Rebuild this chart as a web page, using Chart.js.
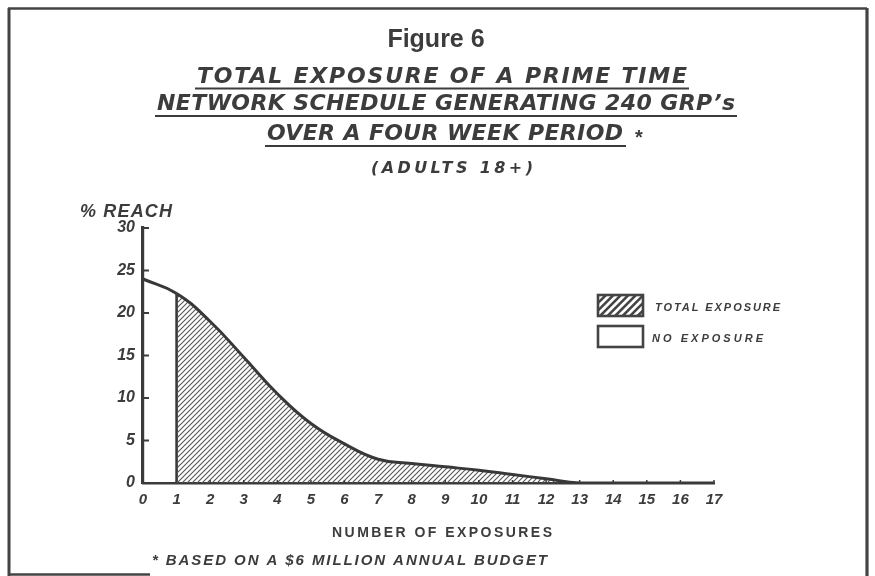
<!DOCTYPE html>
<html>
<head>
<meta charset="utf-8">
<script src="https://cdn.jsdelivr.net/npm/chart.js@4.4.0/dist/chart.umd.min.js"></script>
<style>
html,body{margin:0;padding:0;background:#fff;}
#wrap{width:875px;height:576px;position:relative;}
canvas{display:block;}
</style>
</head>
<body>
<div id="wrap"><canvas id="c" width="875" height="576"></canvas></div>
<script>
// ---- data ----
const exposures = [0,1,2,3,4,5,6,7,8,9,10,11,12,13,14,15,16,17];
const reach     = [24,22.3,19.0,14.8,10.5,7.0,4.6,2.8,2.3,1.9,1.5,1.0,0.5,0,0,0,0,0];
const yTickValues = [0,5,10,15,20,25,30];
const xTickLabels = exposures.map(String);
const totalFrom = 1;   // first exposure counted in "total exposure"
const totalTo = 13;
const figureLabel = 'Figure 6';
const titleLines = ['TOTAL EXPOSURE OF A PRIME TIME','NETWORK SCHEDULE GENERATING 240 GRP\u2019s','OVER A FOUR WEEK PERIOD'];
const subTitle = '(ADULTS 18+)';
const yAxisTitle = '% REACH';
const xAxisTitle = 'NUMBER OF EXPOSURES';
const footnote = '* BASED ON A $6 MILLION ANNUAL BUDGET';
const legendLabels = ['TOTAL EXPOSURE','NO EXPOSURE'];

// ---- styles ----
const INK = '#3c3c3c';
const HAND = "'Liberation Sans', Arial, sans-serif";
const HAND2 = "'DejaVu Sans', sans-serif";

function makeHatch(ctx){
  const S = 5;
  const pc = document.createElement('canvas');
  pc.width = S; pc.height = S;
  const p = pc.getContext('2d');
  p.strokeStyle = '#555';
  p.lineWidth = 1.1;
  p.beginPath();
  p.moveTo(-1,1); p.lineTo(1,-1);
  p.moveTo(0,S); p.lineTo(S,0);
  p.moveTo(S-1,S+1); p.lineTo(S+1,S-1);
  p.stroke();
  return ctx.createPattern(pc,'repeat');
}

function fitText(ctx, text, x, y, w, font){
  ctx.font = font;
  ctx.letterSpacing = '0px';
  const w0 = ctx.measureText(text).width;
  const n = [...text].length;
  const ls = n > 1 ? (w - w0)/(n-1) : 0;
  ctx.letterSpacing = ls + 'px';
  ctx.textAlign = 'left';
  ctx.textBaseline = 'alphabetic';
  ctx.fillText(text, x, y);
  ctx.letterSpacing = '0px';
}

function line(ctx,x1,y1,x2,y2,w){
  ctx.beginPath(); ctx.lineWidth = w; ctx.moveTo(x1,y1); ctx.lineTo(x2,y2); ctx.stroke();
}

const canvas = document.getElementById('c');
const cctx = canvas.getContext('2d');
const hatch = makeHatch(cctx);

const framePlugin = {
  id: 'frame',
  beforeDraw(chart){
    const ctx = chart.ctx;
    ctx.save();
    ctx.fillStyle = '#fff';
    ctx.fillRect(0,0,chart.width,chart.height);
    ctx.strokeStyle = '#444';
    line(ctx, 9, 8, 9, 576, 3);
    line(ctx, 8, 8.5, 867, 8.5, 2.5);
    line(ctx, 867, 8, 867, 576, 3.2);
    line(ctx, 8, 574.5, 150, 574.5, 2.5);
    ctx.restore();
  }
};

const textPlugin = {
  id: 'texts',
  afterDraw(chart){
    const ctx = chart.ctx;
    const xs = chart.scales.x, ys = chart.scales.y;
    ctx.save();
    ctx.fillStyle = INK;
    ctx.strokeStyle = INK;

    // inward ticks on y axis
    yTickValues.forEach(v => {
      if (v === 0) return;
      const py = ys.getPixelForValue(v);
      line(ctx, xs.left, py, xs.left + 6, py, 2);
    });
    // small upward ticks on x axis
    exposures.forEach(v => {
      if (v === 0) return;
      const px = xs.getPixelForValue(v);
      line(ctx, px, ys.bottom, px, ys.bottom - 3, 1.5);
    });

    // figure label
    ctx.font = "bold 25px 'Liberation Sans', Arial, sans-serif";
    ctx.textAlign = 'center';
    ctx.textBaseline = 'alphabetic';
    ctx.fillText(figureLabel, 436, 47);

    // title lines
    const tf = "oblique bold 22px " + HAND2;
    fitText(ctx, titleLines[0], 197, 83, 490, tf);
    line(ctx, 195, 88.5, 689, 88.5, 2);
    fitText(ctx, titleLines[1], 157, 110, 578, tf);
    line(ctx, 155, 116, 737, 116, 2);
    fitText(ctx, titleLines[2], 267, 140, 356, tf);
    line(ctx, 265, 146, 626, 146, 2);
    ctx.font = "bold 20px " + HAND;
    ctx.textAlign = 'left';
    ctx.fillText('*', 635, 144);

    fitText(ctx, subTitle, 371, 173, 162, "oblique bold 16px " + HAND2);

    // y axis title
    fitText(ctx, yAxisTitle, 80, 217, 92, "italic bold 18px " + HAND);

    // x axis title
    fitText(ctx, xAxisTitle, 332, 537, 220, "bold 14px " + HAND);

    // footnote
    fitText(ctx, footnote, 152, 565, 395, "italic bold 15px " + HAND);

    // legend
    const bx = 598, bw = 45, bh = 21;
    const b1y = 295, b2y = 326;
    ctx.save();
    ctx.beginPath(); ctx.rect(bx, b1y, bw, bh); ctx.clip();
    ctx.strokeStyle = '#444';
    for (let k = -30; k < bw + 30; k += 7.5){
      line(ctx, bx + k, b1y + bh + 2, bx + k + bh + 4, b1y - 2, 2.6);
    }
    ctx.restore();
    ctx.strokeStyle = '#444';
    ctx.lineWidth = 2.6;
    ctx.strokeRect(bx, b1y, bw, bh);
    ctx.strokeRect(bx, b2y, bw, bh);
    fitText(ctx, legendLabels[0], 655, 311, 125, "italic bold 11px " + HAND);
    fitText(ctx, legendLabels[1], 652, 342, 111, "italic bold 11px " + HAND);

    ctx.restore();
  }
};

const curveData = exposures.map((x,i) => ({x, y: reach[i]}));
const iFrom = exposures.indexOf(totalFrom);
const boundaryData = [{x: totalFrom, y: 0}, {x: totalFrom, y: reach[iFrom]}];

new Chart(cctx, {
  type: 'line',
  data: {
    datasets: [
      {
        label: 'Reach',
        data: curveData,
        borderColor: '#383838',
        borderWidth: 3,
        pointRadius: 0,
        tension: 0.45,
        fill: 'origin',
        backgroundColor: 'rgba(0,0,0,0)',
        segment: {
          backgroundColor: c => (c.p0.parsed.x >= totalFrom && c.p1.parsed.x <= totalTo) ? hatch : 'rgba(0,0,0,0)'
        }
      },
      {
        label: 'Boundary',
        data: boundaryData,
        borderColor: '#383838',
        borderWidth: 2.6,
        pointRadius: 0,
        fill: false,
        tension: 0
      }
    ]
  },
  options: {
    responsive: false,
    animation: false,
    devicePixelRatio: 1,
    layout: { padding: { left: 93, right: 161, top: 228, bottom: 63 } },
    plugins: { legend: { display: false }, tooltip: { enabled: false }, title: { display: false } },
    scales: {
      x: {
        type: 'linear',
        min: 0, max: 17,
        afterFit: s => { s.height = 30; },
        afterBuildTicks: s => { s.ticks = exposures.map(v => ({value: v})); },
        ticks: {
          callback: (v) => xTickLabels[exposures.indexOf(v)] ?? '',
          font: { family: HAND, size: 15, weight: 'bold', style: 'italic' },
          color: INK,
          padding: 8,
          maxRotation: 0,
          autoSkip: false
        },
        grid: { display: true, drawOnChartArea: false, drawTicks: false },
        border: { display: true, color: '#3a3a3a', width: 2.6 }
      },
      y: {
        type: 'linear',
        min: 0, max: 30,
        afterFit: s => { s.width = 50; },
        afterBuildTicks: s => { s.ticks = yTickValues.map(v => ({value: v})); },
        ticks: {
          font: { family: HAND, size: 16, weight: 'bold', style: 'italic' },
          color: INK,
          padding: 8
        },
        grid: { display: true, drawOnChartArea: false, drawTicks: false },
        border: { display: true, color: '#3a3a3a', width: 3.2 }
      }
    }
  },
  plugins: [framePlugin, textPlugin]
});
</script>
</body>
</html>
